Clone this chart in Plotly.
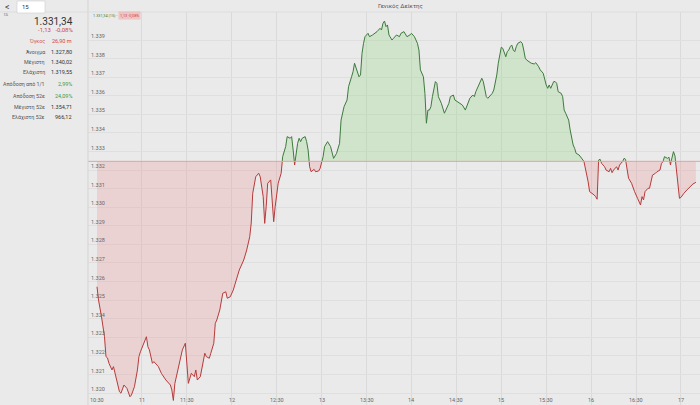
import numpy as np
import pandas as pd
import plotly.graph_objects as go

# ---------------- data ----------------
session_date = "2024-05-15"
open_time = "10:30"
prev_close = 1332.47
last_price = "1.331,34"
change_text = "-1,13   -0,08%"

minutes = [
    0, 1, 3, 5, 6, 7, 8, 10, 11, 13,
    15, 16, 18, 20, 22, 23, 25, 27, 28, 29,
    30, 31, 33, 34, 35, 37, 38, 41, 43, 46,
    49, 50, 51, 52, 54, 55, 57, 59, 60, 61,
    63, 65, 66, 67, 69, 70, 72, 73, 75, 76,
    78, 79, 80, 82, 83, 84, 86, 87, 89, 91,
    93, 95, 98, 100, 102, 103, 104, 106, 108, 109,
    111, 112, 113, 114, 116, 117, 118, 119, 120, 121,
    123, 124, 126, 127, 129, 130, 131, 132, 133, 134,
    135, 136, 137, 139, 140, 141, 142, 143, 145, 146,
    148, 149, 151, 152, 154, 156, 157, 158, 160, 161,
    162, 163, 165, 167, 168, 170, 171, 172, 174, 175,
    176, 177, 178, 179, 181, 182, 184, 186, 187, 189,
    190, 191, 192, 193, 194, 195, 197, 198, 200, 202,
    203, 205, 207, 209, 210, 212, 214, 215, 216, 218,
    219, 220, 221, 222, 223, 224, 225, 226, 227, 228,
    230, 231, 232, 233, 235, 236, 238, 239, 241, 242,
    244, 246, 247, 248, 249, 251, 252, 253, 255, 256,
    257, 258, 259, 260, 261, 263, 264, 265, 267, 268,
    269, 270, 271, 272, 273, 274, 275, 276, 277, 278,
    279, 280, 281, 283, 284, 285, 286, 287, 289, 290,
    292, 293, 295, 296, 298, 299, 300, 301, 302, 303,
    305, 306, 307, 308, 310, 311, 312, 313, 315, 316,
    317, 318, 319, 320, 322, 323, 325, 326, 327, 328,
    329, 331, 332, 333, 334, 335, 336, 337, 339, 340,
    342, 343, 344, 345, 347, 348, 349, 351, 352, 353,
    354, 355, 357, 358, 359, 361, 362, 363, 364, 365,
    366, 368, 369, 370, 371, 373, 374, 376, 377, 378,
    379, 381, 382, 383, 384, 385, 386, 387, 388, 389,
    390, 391, 392, 394, 396, 398, 400,
]

price = [
    1325.72, 1325.01, 1324.11, 1323.03, 1321.96, 1321.89, 1321.60, 1321.24, 1321.42, 1320.70,
    1320.07, 1319.99, 1320.43, 1320.25, 1319.80, 1319.89, 1320.34, 1321.24, 1321.96, 1322.22,
    1322.41, 1322.58, 1323.03, 1322.49, 1322.32, 1321.60, 1321.69, 1321.42, 1321.06, 1320.70,
    1320.43, 1320.16, 1319.60, 1320.52, 1321.24, 1321.51, 1322.32, 1322.68, 1321.60, 1320.52,
    1321.06, 1320.88, 1321.24, 1320.70, 1320.88, 1321.24, 1322.14, 1321.96, 1321.87, 1322.14,
    1322.68, 1323.75, 1323.93, 1324.47, 1324.83, 1325.37, 1325.45, 1325.10, 1325.18, 1325.54,
    1326.08, 1326.62, 1327.16, 1327.70, 1328.41, 1329.15, 1330.75, 1331.64, 1331.83, 1331.64,
    1330.57, 1329.13, 1330.03, 1331.29, 1331.47, 1330.57, 1329.22, 1330.03, 1330.57, 1331.29,
    1331.83, 1332.72, 1333.26, 1333.80, 1333.71, 1333.80, 1333.08, 1332.27, 1332.90, 1333.44,
    1333.71, 1333.53, 1333.71, 1333.80, 1333.53, 1333.08, 1332.18, 1331.91, 1332.04, 1331.91,
    1331.95, 1332.09, 1332.72, 1333.26, 1333.53, 1333.26, 1332.90, 1332.63, 1332.90, 1333.26,
    1333.44, 1334.69, 1335.41, 1335.77, 1336.49, 1337.02, 1337.29, 1337.75, 1337.21, 1337.02,
    1337.12, 1338.28, 1338.82, 1339.18, 1339.36, 1339.18, 1339.27, 1339.36, 1339.45, 1339.63,
    1339.54, 1339.90, 1340.02, 1339.72, 1339.81, 1339.27, 1339.00, 1339.09, 1339.27, 1339.18,
    1339.36, 1339.45, 1339.18, 1339.27, 1339.36, 1339.18, 1338.82, 1338.46, 1337.39, 1337.02,
    1336.13, 1334.52, 1335.23, 1335.23, 1335.41, 1335.95, 1336.31, 1336.76, 1336.67, 1335.95,
    1335.59, 1335.32, 1335.06, 1335.23, 1335.59, 1335.95, 1336.04, 1335.77, 1335.68, 1335.59,
    1335.50, 1335.23, 1335.41, 1335.68, 1335.86, 1336.04, 1335.95, 1336.22, 1336.58, 1336.85,
    1336.94, 1336.76, 1336.31, 1335.95, 1335.86, 1336.04, 1336.13, 1336.31, 1337.12, 1337.75,
    1338.28, 1338.61, 1338.55, 1338.37, 1338.10, 1338.37, 1338.46, 1338.64, 1338.73, 1338.46,
    1338.37, 1338.64, 1338.82, 1338.91, 1338.82, 1338.46, 1338.02, 1337.92, 1337.83, 1337.75,
    1337.71, 1337.78, 1337.56, 1337.39, 1337.21, 1336.85, 1336.58, 1336.40, 1336.58, 1336.40,
    1336.76, 1336.76, 1336.67, 1336.22, 1336.13, 1335.95, 1335.23, 1335.06, 1334.69, 1334.16,
    1333.62, 1333.35, 1333.17, 1332.90, 1332.81, 1332.72, 1332.54, 1332.18, 1331.83, 1331.37,
    1330.84, 1330.75, 1330.66, 1330.57, 1330.43, 1332.54, 1332.58, 1332.36, 1332.18, 1332.00,
    1331.91, 1332.09, 1331.86, 1332.00, 1332.18, 1332.00, 1332.27, 1332.45, 1332.63, 1332.58,
    1332.00, 1331.56, 1331.29, 1331.02, 1330.84, 1330.48, 1330.30, 1330.12, 1330.57, 1330.39,
    1330.84, 1331.02, 1331.02, 1331.37, 1331.73, 1331.83, 1331.91, 1332.00, 1332.36, 1332.45,
    1332.72, 1332.63, 1332.69, 1332.27, 1332.72, 1332.99, 1332.76, 1332.00, 1331.10, 1330.48,
    1330.53, 1330.66, 1330.75, 1330.93, 1331.10, 1331.25, 1331.34,
]
assert len(minutes) == len(price)

y_tick_values = list(range(1320, 1340))
y_tick_labels = ["1.%03d" % (v - 1000) for v in y_tick_values]
x_tick_times = ["10:30", "11:00", "11:30", "12:00", "12:30", "13:00", "13:30",
                "14:00", "14:30", "15:00", "15:30", "16:00", "16:30", "17:00"]
x_tick_labels = ["10:30", "11", "11:30", "12", "12:30", "13", "13:30",
                 "14", "14:30", "15", "15:30", "16", "16:30", "17"]

stat_labels = ["Όγκος", "Άνοιγμα", "Μέγιστη", "Ελάχιστη", "Απόδοση από 1/1",
               "Απόδοση 52ε", "Μέγιστη 52ε", "Ελάχιστη 52ε"]
stat_values = ["26,90 m", "1.327,80", "1.340,02", "1.319,55", "2,99%",
               "24,09%", "1.354,71", "966,12"]
stat_kind = ["neg", "n", "n", "n", "pos", "pos", "n", "n"]

title_text = "Γενικός Δείκτης"
symbol_text = "15"
chart_tag_main = "1.331,34 (15) -"
chart_tag_change = "1,13 -0,08%"

# ---------------- geometry / styles ----------------
W, H = 700, 405
L, T = 88, 12
BG = "#eaeaea"
RED = "#b83a3a"
GREEN = "#3d7a3d"
RED_FILL = "rgba(240,140,140,0.25)"
GREEN_FILL = "rgba(140,215,125,0.27)"

t0 = pd.Timestamp(session_date + " " + open_time)

# insert crossing points with the previous close so the two colours split cleanly
m = np.array(minutes, float)
p = np.array(price, float)
xs, ys = [], []
for i in range(len(m)):
    if i > 0:
        a, b = p[i - 1] - prev_close, p[i] - prev_close
        if a * b < 0:
            f = a / (a - b)
            xs.append(m[i - 1] + f * (m[i] - m[i - 1]))
            ys.append(prev_close)
    xs.append(m[i])
    ys.append(p[i])
xs = np.array(xs)
ys = np.array(ys)
xt = t0 + pd.to_timedelta(xs, unit="m")
up_line = np.where(ys >= prev_close, ys, np.nan)
dn_line = np.where(ys <= prev_close, ys, np.nan)
up_fill = np.maximum(ys, prev_close)
dn_fill = np.minimum(ys, prev_close)
basev = np.full(len(ys), prev_close)

fig = go.Figure()
common = dict(mode="lines", hoverinfo="skip", showlegend=False)
fig.add_trace(go.Scatter(x=xt, y=basev, line=dict(width=0), **common))
fig.add_trace(go.Scatter(x=xt, y=up_fill, fill="tonexty", fillcolor=GREEN_FILL,
                         line=dict(width=0), **common))
fig.add_trace(go.Scatter(x=xt, y=basev, line=dict(width=0), **common))
fig.add_trace(go.Scatter(x=xt, y=dn_fill, fill="tonexty", fillcolor=RED_FILL,
                         line=dict(width=0), **common))
fig.add_trace(go.Scatter(x=xt, y=up_line, line=dict(color=GREEN, width=1), **common))
fig.add_trace(go.Scatter(x=xt, y=dn_line, line=dict(color=RED, width=1), **common))

# axis ranges derived from pixel layout
px_per_min = 44.92 / 30.0
x_lo = t0 - pd.Timedelta(minutes=(97 - L) / px_per_min)
x_hi = t0 + pd.Timedelta(minutes=(W - 97) / px_per_min)
px_per_unit = 18.58
y_hi = 1339 + (40 - T) / px_per_unit
y_lo = 1339 - (H - 40) / px_per_unit

x_tick_ts = [pd.Timestamp(session_date + " " + s) for s in x_tick_times]

fig.update_layout(
    width=W, height=H,
    margin=dict(l=L, r=0, t=T, b=0),
    paper_bgcolor=BG, plot_bgcolor=BG,
    font=dict(family="Roboto, Arial, sans-serif", color="#555"),
    hovermode=False,
    xaxis=dict(
        range=[x_lo, x_hi], showgrid=True, gridcolor="#dadada", gridwidth=1,
        tickvals=x_tick_ts, showticklabels=False,
        ticks="", zeroline=False, showline=False, fixedrange=True,
    ),
    yaxis=dict(
        range=[y_lo, y_hi], showgrid=True, gridcolor="#dfdfdf", gridwidth=1,
        tickvals=y_tick_values, ticktext=y_tick_labels,
        ticklabelposition="inside top", tickfont=dict(size=5.5, color="#666"),
        ticks="", zeroline=False, showline=False, fixedrange=True,
    ),
)

# previous close reference line
fig.add_shape(type="line", xref="paper", yref="y", x0=0, x1=1,
              y0=prev_close, y1=prev_close, line=dict(color="#e0a3a3", width=1))


def px(x):
    return (x - L) / (W - L)


def py(y):
    return (H - y) / (H - T)


# left panel + header decorations
fig.add_shape(type="line", xref="paper", yref="paper", x0=px(L), x1=px(L),
              y0=py(H), y1=py(0), line=dict(color="#d3d3d3", width=1))
fig.add_shape(type="line", xref="paper", yref="paper", x0=px(0), x1=px(W),
              y0=py(12), y1=py(12), line=dict(color="#dddddd", width=1))
fig.add_shape(type="rect", xref="paper", yref="paper", x0=px(17), x1=px(45),
              y0=py(13), y1=py(1), fillcolor="white", line=dict(color="#cccccc", width=0.6))

ann = []


def text(x, y, s, size, color, xanchor="left", **kw):
    ann.append(dict(xref="paper", yref="paper", x=px(x), y=py(y), text=s,
                    showarrow=False, xanchor=xanchor, yanchor="middle",
                    font=dict(size=size, color=color), **kw))


# time-axis labels placed on the x scale, just above the bottom edge
for ts, lab in zip(x_tick_ts, x_tick_labels):
    ann.append(dict(xref="x", yref="paper", x=ts, y=py(399.5), text=lab,
                    showarrow=False, xanchor="center", yanchor="middle",
                    font=dict(size=5.5, color="#666")))

text(3, 7, "<", 9, "#444")
text(2, 14.5, "ΓΔ", 3.5, "#666")
text(20, 7, symbol_text, 6, "#333")
text(400, 6, title_text, 6, "#555", xanchor="center")
text(75, 21, last_price, 10, "#333", xanchor="right")
text(75, 30, change_text, 6, "#d04545", xanchor="right")
row_y = [41, 51.5, 62, 72, 84, 96, 107, 117]
for lab, val, kind, yy in zip(stat_labels, stat_values, stat_kind, row_y):
    lab_col = "#d05a5a" if kind == "neg" else "#555"
    val_col = {"neg": "#d04545", "pos": "#3f9a3f", "n": "#333"}[kind]
    text(47, yy, lab, 5.3, lab_col, xanchor="right")
    text(74, yy, val, 5.5, val_col, xanchor="right")

text(91, 15.5, chart_tag_main, 3.8, "#3d7a3d")
text(118, 15.5, chart_tag_change, 3.8, "#d04545", bgcolor="rgba(240,170,170,0.6)")

fig.update_layout(annotations=ann)
fig.write_html("out.html",
               config={"displayModeBar": False, "staticPlot": True},
               post_script="document.body.style.margin='0';document.body.style.overflow='hidden';")
